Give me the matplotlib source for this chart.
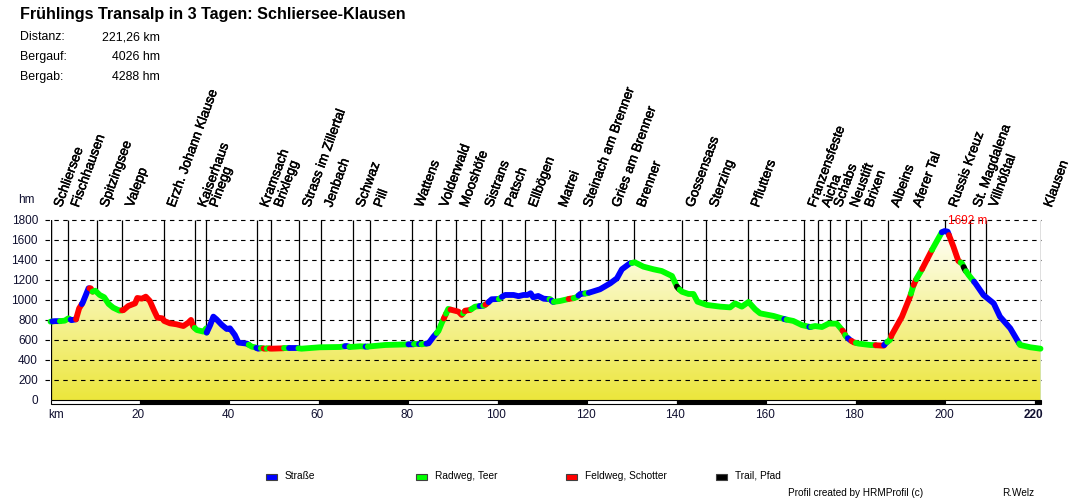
import numpy as np
import matplotlib
matplotlib.use("Agg")
import matplotlib.pyplot as plt
import matplotlib.patheffects as pe
from matplotlib.patches import Rectangle, PathPatch
from matplotlib.path import Path

plt.rcParams['font.family'] = ['Liberation Sans', 'DejaVu Sans']

title = "Frühlings Transalp in 3 Tagen: Schliersee-Klausen"
stat_names = ["Distanz:", "Bergauf:", "Bergab:"]
stat_values = ["221,26 km", "4026 hm", "4288 hm"]

km = [0,1,2.1,3.2,4,4.7,5.7,6.4,7.2,7.9,8.5,9,9.4,10,11,12,13,14,15.4,16.3,17.4,18.9,19.4,20.4,21.3,22.2,23.1,23.9,25,25.4,26.7,28.2,29.7,30.8,31.4,31.9,32.7,34.2,34.8,34.9,35.7,36.4,37.1,38.3,39.4,40.1,41.2,42,43.9,45,45.7,46.4,47.2,47.9,48.7,49.4,52,53.2,53.5,55.4,56.1,60.2,64.7,66.2,67,69.2,70.5,70.9,74.8,80.4,81.5,82.6,83,84.5,85.6,86.7,87.4,88.2,88.9,89.7,91.2,91.9,92.7,93.8,94.9,96,96.9,97.6,98.6,100.2,100.8,101.6,103.5,104.6,105.7,106.6,107.3,107.9,109,110.2,111.7,112.3,113.9,116.1,116.9,117.6,118.4,119.9,120.6,122.8,125.1,126.6,127.7,129.5,130.6,132.5,134.8,136.6,138.9,140,140.3,141.1,142.6,143.7,144.6,146.7,149.7,151.9,153,154.5,156,157.5,158.6,161.6,164.2,166,167.9,169.8,170.9,172.4,173.9,175.7,176.6,177.2,177.8,178.7,179.5,180.6,183.2,184.7,186.2,186.8,187.6,188,190.3,192.1,192.9,193.6,194.7,197,199.2,199.8,200.5,201.8,202.9,203.7,204.4,205.2,206.7,208.5,210.8,212.2,214.5,216.7,219,221.26]
elev = [785,790,790,795,818,800,808,918,975,1052,1119,1119,1085,1095,1052,1029,962,925,895,900,942,968,1022,1015,1035,992,900,825,818,792,768,758,741,775,802,735,701,685,718,675,752,835,808,752,711,718,651,575,565,534,528,514,520,514,518,514,518,518,518,518,514,528,531,541,531,538,535,535,551,558,558,558,558,568,635,691,768,845,912,902,885,852,895,902,935,942,945,968,1009,1012,1030,1052,1052,1040,1052,1052,1069,1029,1042,1015,1009,982,992,1015,1020,1030,1062,1069,1078,1109,1169,1219,1309,1369,1379,1336,1309,1292,1242,1136,1119,1085,1062,1062,985,952,935,928,968,935,982,908,868,842,808,792,751,731,741,731,765,765,718,685,635,601,578,565,551,548,544,575,601,651,835,1035,1152,1219,1303,1503,1680,1692,1687,1536,1393,1369,1303,1252,1169,1052,968,835,718,551,528,514]

surface_km = [0,0.4,2.1,4.5,5.7,7.0,8.7,9.4,16,32.2,34.9,44.3,46,47,47.6,48.3,49,52.1,53.4,55.4,65.8,66.8,70.4,70.9,80,81.2,82.4,82.9,84,86.3,87.9,88.4,89.4,92.2,92.6,94,95.9,96.7,97.2,97.9,100.2,100.9,111.5,112,112.5,115.8,116.9,118,119.5,120.3,129.9,140,140.6,164,164.5,169.6,170,177,177.6,178.2,179,180,184.4,186.3,187,187.9,192.3,192.9,193.5,194.8,197,199.2,200.8,203.4,204.1,204.6,206.4,216.5]
surface_type = list("GBGBRBRGRGBGBGRGRGBGBGBGBGBGBGRGRGRGBGRBGBGBGRGBGBGKGBGBGRGBRGRBGRGRGRGBRGKGBG")

stop_names = ["Schliersee","Fischhausen","Spitzingsee","Valepp","Erzh. Johann Klause","Kaiserhaus","Pinegg","Kramsach","Brixlegg","Strass im Zillertal","Jenbach","Schwaz","Pill","Wattens","Volderwald","Mooshöfe","Sistrans","Patsch","Ellbögen","Matrei","Steinach am Brenner","Gries am Brenner","Brenner","Gossensass","Sterzing","Pflutters","Franzensfeste","Aicha","Schabs","Neustift","Brixen","Albeins","Aferer Tal","Russis Kreuz","St. Magdalena","Villnößtal","Klausen"]
stop_km = [0,3.8,10.3,16,25.3,32.2,34.8,46.1,49.2,55.5,60.4,67.5,71.5,80.7,86.2,90.7,96.3,100.8,106.1,112.8,118.3,124.7,130.3,141.2,146.5,155.8,168.5,171.6,174.3,177.9,181.2,187.1,192,200,205.4,209,221.26]

yticks = list(range(0,2000,200))
xticks = list(range(20,240,20))
legend_names = ["Straße","Radweg, Teer","Feldweg, Schotter","Trail, Pfad"]
legend_keys = ["B","G","R","K"]
colors = {"B":"#0000ff","G":"#00ff00","R":"#ff0000","K":"#000000"}
km_total = 221.26
peak_label = "1692 m"

W,H = 1090,500
fig = plt.figure(figsize=(W/100,H/100), dpi=100, facecolor='white')
L,R,T,B = 50.5,1040.5,220.3,400.0
ax = fig.add_axes([L/W, 1-B/H, (R-L)/W, (B-T)/H])
ax.axis('off')

def px(x,y): return x/W, 1-y/H

# gradient under the profile
grad = np.linspace(0,1,256)[:,None]
c0,c1 = np.array([236,230,60])/255, np.array([255,255,250])/255
img = (c0[None,None,:]*(1-grad[...,None])+c1[None,None,:]*grad[...,None])
im = ax.imshow(img, origin='lower', extent=[0,km_total,0,1720], aspect='auto', zorder=1)
verts = [(0,0)]+list(zip(km,elev))+[(km_total,0),(0,0)]
clip = PathPatch(Path(verts), transform=ax.transData, fc='none', ec='none')
ax.add_patch(clip); im.set_clip_path(clip)
ax.set_xlim(0,km_total); ax.set_ylim(0,1800)

# grid
for v in yticks[1:]:
    ax.plot([-1.2,km_total],[v,v],color='k',lw=0.8,dashes=(4,4),zorder=2,clip_on=False)
for v in yticks:
    fig.text(*px(38,B-v/10.0+1.0),str(v),ha='right',va='center',fontsize=8.5,color='#101030')

# stops
heavier = [pe.withStroke(linewidth=0.35, foreground='k')]
for name,k in zip(stop_names,stop_km):
    e = np.interp(k,km,elev)
    ax.plot([k,k],[e,1800],color='k',lw=0.9,zorder=3,solid_capstyle='butt')
    x = L+k*(R-L)/km_total
    fig.text(*px(x+11,208),name,rotation=70,rotation_mode='anchor',ha='left',va='baseline',fontsize=9.7,color='k',path_effects=heavier)
ax.plot([0,0],[0,1800],color='k',lw=0.9,zorder=3)
ax.plot([km_total]*2,[0,elev[-1]],color='#008080',lw=0.9,zorder=3)

# profile, one stroke per surface run
limits = list(surface_km)+[km_total]
for a,b,s in zip(limits[:-1],limits[1:],surface_type):
    inner = [(k,e) for k,e in zip(km,elev) if a<k<b]
    xs = [a]+[p[0] for p in inner]+[b]
    ys = [np.interp(a,km,elev)]+[p[1] for p in inner]+[np.interp(b,km,elev)]
    ax.plot(xs,ys,color=colors[s],lw=4.2,solid_capstyle='round',solid_joinstyle='round',zorder=4,clip_on=False)

# scale bar
edges = [0]+xticks+[km_total]
for idx in range(len(edges)-1):
    ax.add_patch(Rectangle((edges[idx],-45),edges[idx+1]-edges[idx],45,fc='k' if idx%2 else 'w',ec='k',lw=0.8,clip_on=False,zorder=3))
fig.text(*px(56,415),"km",ha='center',va='center',fontsize=8.5,color='#101030')
for v in xticks:
    x = L+v*(R-L)/km_total
    fig.text(*px(x-1.5,415),str(v),ha='center',va='center',fontsize=8.5,color='#101030',fontweight='bold' if v==220 else 'normal')
fig.text(*px(18,200),"hm",ha='left',va='center',fontsize=8.5,color='#101030')

# peak label
fig.text(*px(948,221),peak_label,color='#ff0000',fontsize=8.5,ha='left',va='center',zorder=6)

# header
fig.text(*px(20,14),title,fontsize=11.6,fontweight='bold',ha='left',va='center')
for y,a,b in zip([37,57,77],stat_names,stat_values):
    fig.text(*px(20,y),a,fontsize=8.9,ha='left',va='center')
    fig.text(*px(160,y),b,fontsize=8.9,ha='right',va='center')

# legend
for x,name,key in zip([266,416,566,716],legend_names,legend_keys):
    fig.add_artist(Rectangle((x/W,1-480/H),11/W,6/H,transform=fig.transFigure,fc=colors[key],ec='#404040',lw=0.8))
    fig.text(*px(x+19,476),name,fontsize=7.3,ha='left',va='center')
fig.text(*px(788,493),"Profil created by HRMProfil (c)",fontsize=7.2,ha='left',va='center')
fig.text(*px(1002,493),"R.Welz",fontsize=7.2,ha='left',va='center')

fig.savefig("out.png",dpi=100)
